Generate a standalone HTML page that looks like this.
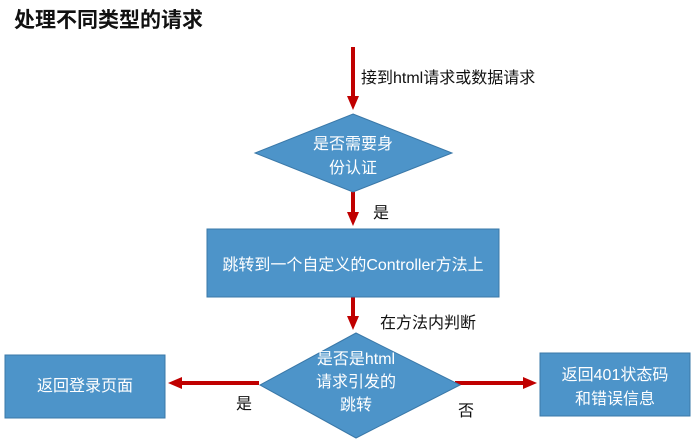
<!DOCTYPE html>
<html><head><meta charset="utf-8"><style>
body{margin:0;width:700px;height:439px;background:#fff;overflow:hidden;font-family:"Liberation Sans","Noto Sans CJK SC",sans-serif;}
</style></head><body>
<svg width="700" height="439" xmlns="http://www.w3.org/2000/svg" style="position:absolute;left:0;top:0">
<defs><marker id="a" markerWidth="14" markerHeight="14" refX="8" refY="7" orient="auto" markerUnits="userSpaceOnUse"><path d="M0,1 L14,7 L0,13 z" fill="#c00000"/></marker></defs>
<text x="14" y="27" font-size="21" font-weight="bold" fill="#111" font-family="Liberation Sans,Noto Sans CJK SC,sans-serif">处理不同类型的请求</text>
<g stroke="#c00000" stroke-width="4" fill="none">
<line x1="353" y1="47" x2="353" y2="104" marker-end="url(#a)"/>
<line x1="353" y1="192" x2="353" y2="220" marker-end="url(#a)"/>
<line x1="353" y1="297" x2="353" y2="324" marker-end="url(#a)"/>
<line x1="259" y1="383" x2="174" y2="383" marker-end="url(#a)"/>
<line x1="455" y1="383" x2="531" y2="383" marker-end="url(#a)"/>
</g>
<polygon points="353,114 452,153 353,192 255,153" fill="#4d94c9" stroke="#3a78a8"/>
<rect x="207" y="229" width="292" height="68" fill="#4d94c9" stroke="#3a78a8"/>
<polygon points="356,333 460,385 356,438 260,385" fill="#4d94c9" stroke="#3a78a8"/>
<rect x="5" y="355" width="160" height="63" fill="#4d94c9" stroke="#3a78a8"/>
<rect x="540" y="353" width="150" height="63" fill="#4d94c9" stroke="#3a78a8"/>
<g font-size="16" fill="#fff" text-anchor="middle" font-family="Liberation Sans,Noto Sans CJK SC,sans-serif">
<text x="353" y="149">是否需要身</text>
<text x="353" y="173">份认证</text>
<text x="353" y="270">跳转到一个自定义的Controller方法上</text>
<text x="356" y="364">是否是html</text>
<text x="356" y="387">请求引发的</text>
<text x="356" y="410">跳转</text>
<text x="85" y="391">返回登录页面</text>
<text x="615" y="380">返回401状态码</text>
<text x="615" y="404">和错误信息</text>
</g>
<g font-size="16" fill="#111" font-family="Liberation Sans,Noto Sans CJK SC,sans-serif">
<text x="361" y="83">接到html请求或数据请求</text>
<text x="373" y="218">是</text>
<text x="380" y="328">在方法内判断</text>
<text x="236" y="409">是</text>
<text x="458" y="416">否</text>
</g>
</svg>
</body></html>
